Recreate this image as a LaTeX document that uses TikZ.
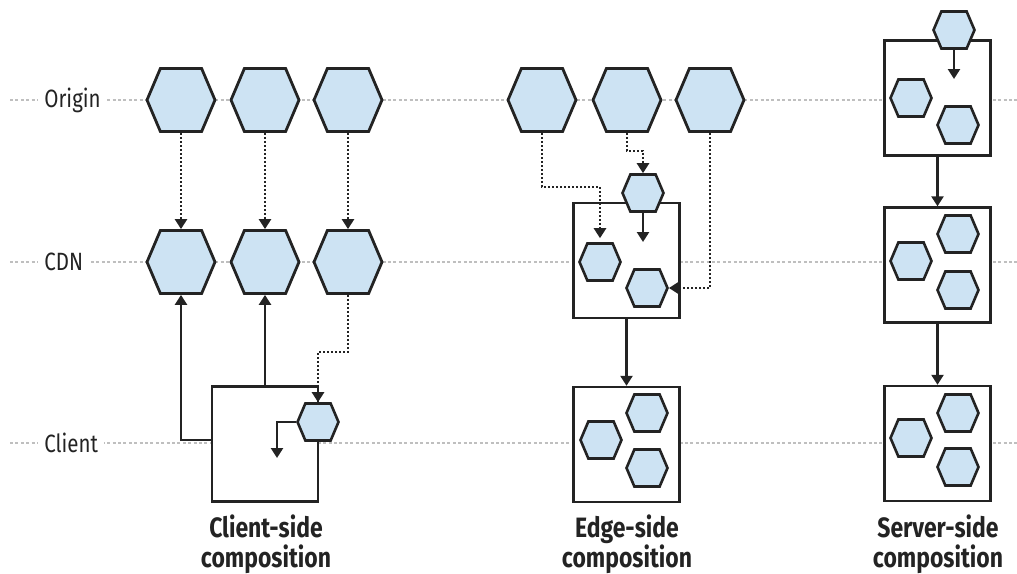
\documentclass[tikz,border=0pt]{standalone}
\usepackage{fontspec}
\setmainfont{Fira Sans}[FakeStretch=0.82]
\usetikzlibrary{shapes.symbols,arrows.meta}

\definecolor{hexfill}{RGB}{205,227,243}
\definecolor{ink}{RGB}{35,35,35}

\begin{document}
\begin{tikzpicture}[x=0.5pt,y=-0.5pt,
  hexbig/.style={signal, signal to=west and east, signal pointer angle=134, draw=ink, fill=hexfill, line width=1.4pt, inner sep=0pt, minimum width=34pt, minimum height=31.5pt},
  hexsmall/.style={hexbig, minimum width=20.5pt, minimum height=18.5pt, line width=1.3pt},
  compbox/.style={draw=ink, fill=white, line width=1.2pt, minimum width=53pt, minimum height=57.5pt, inner sep=0pt},
  rowline/.style={gray!50, line width=0.7pt, dash pattern=on 1.5pt off 1.2pt},
  rowlabel/.style={anchor=west, fill=white, inner sep=3pt, text=ink, font=\fontsize{12.5}{12.5}\selectfont},
  caption/.style={align=center, text=ink, font=\bfseries\fontsize{14}{15}\selectfont},
  link/.style={draw=ink, line width=1.2pt, -{Triangle[width=6pt,length=5pt]}},
  fetch/.style={link, line width=1.3pt, dash pattern=on 1pt off 1pt},
]
\useasboundingbox (0,0) rectangle (1017,573);

\draw[rowline] (10,100) -- (1017,100);
\draw[rowline] (10,262) -- (1017,262);
\draw[rowline] (10,443) -- (1017,443);
\node[rowlabel] (lorigin) at (38,100) {Origin};
\node[rowlabel] (lcdn) at (38,262) {CDN};
\node[rowlabel] (lclient) at (38,443) {Client};

% client-side
\node[hexbig] (co1) at (181,100) {};
\node[hexbig] (co2) at (265,100) {};
\node[hexbig] (co3) at (348,100) {};
\node[hexbig] (cc1) at (181,262) {};
\node[hexbig] (cc2) at (265,262) {};
\node[hexbig] (cc3) at (348,262) {};
\node[compbox] (cbox) at (265,444) {};
\node[hexsmall] (chex) at (318,422) {};
\coordinate (cend) at (277,458);
\draw[fetch] (co1) -- (cc1);
\draw[fetch] (co2) -- (cc2);
\draw[fetch] (co3) -- (cc3);
\draw[link] ([yshift=2pt]cbox.west) -| (cc1.south);
\draw[link] (cbox.north) -- (cc2.south);
\draw[fetch] (cc3.south) -- ++(0,57) -| (chex.north);
\draw[link] (chex.west) -| (cend);
\node[caption] (ccap) at (266,544) {Client-side\\composition};

% edge-side
\node[hexbig] (eo1) at (542,100) {};
\node[hexbig] (eo2) at (627,100) {};
\node[hexbig] (eo3) at (710,100) {};
\node[compbox] (ebox1) at (626.5,260.5) {};
\node[hexsmall] (ehex) at (643,193) {};
\node[hexsmall] (ea) at (600,262) {};
\node[hexsmall] (eb) at (647,288) {};
\coordinate (eend) at (643,242);
\draw[fetch, shorten >=2pt] (eo1.south) -- ++(0,54) -| (ea.north);
\draw[fetch] (eo2.south) -- ++(0,18) -| (ehex.north);
\draw[fetch] (eo3.south) |- (eb.east);
\draw[link] (ehex.south) -- (eend);
\node[compbox] (ebox2) at (626.5,444.5) {};
\node[hexsmall] (ec) at (647,413) {};
\node[hexsmall] (ed) at (601,440) {};
\node[hexsmall] (ee) at (647,468) {};
\draw[link] (ebox1.south) -- (ebox2.north);
\node[caption] (ecap) at (627,544) {Edge-side\\composition};

% server-side
\node[compbox] (sbox1) at (937.5,98) {};
\node[hexsmall] (shex) at (954,30) {};
\node[hexsmall] (sa) at (911,98) {};
\node[hexsmall] (sb) at (958,125) {};
\coordinate (send) at (954,79);
\draw[link] (shex.south) -- (send);
\node[compbox] (sbox2) at (937.5,265) {};
\node[hexsmall] (sc) at (958,234) {};
\node[hexsmall] (sd) at (911,261) {};
\node[hexsmall] (se) at (958,290) {};
\node[compbox] (sbox3) at (937.5,443.5) {};
\node[hexsmall] (sf) at (958,413) {};
\node[hexsmall] (sg) at (911,438) {};
\node[hexsmall] (sh) at (958,467) {};
\draw[link] (sbox1.south) -- (sbox2.north);
\draw[link] (sbox2.south) -- (sbox3.north);
\node[caption] (scap) at (938,544) {Server-side\\composition};
\end{tikzpicture}
\end{document}
